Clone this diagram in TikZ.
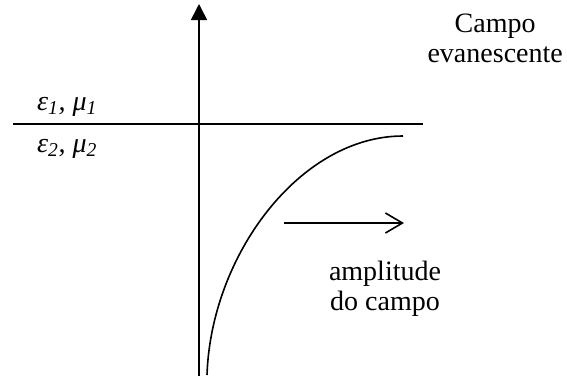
\documentclass[tikz,border=0pt]{standalone}
\usepackage{fontspec}
\setmainfont{Liberation Serif}
\usetikzlibrary{arrows.meta}
\begin{document}
\begin{tikzpicture}[x=1pt,y=-1pt,
  lbl/.style={inner sep=0pt, font=\fontsize{28}{30}\selectfont, align=center},
  med/.style={inner sep=0pt, font=\fontsize{28}{30}\selectfont\itshape},
  ln/.style={line width=1.6pt}]
\useasboundingbox (0,0) rectangle (567,381);
\coordinate (ab) at (199,376);
\coordinate (at) at (199,4);
\draw[ln,-{Triangle[length=16pt,width=16pt]}] (ab) -- (at);
\coordinate (hl) at (13,124);
\coordinate (hr) at (423,124);
\draw[ln] (hl) -- (hr);
\coordinate (cb) at (207,375);
\coordinate (ce) at (403,136);
\draw[ln] (cb) .. controls (211,255) and (300,136) .. (ce);
\coordinate (as) at (284,223);
\coordinate (ae) at (404,223);
\draw[ln,-{Straight Barb[length=17pt,width=20pt,line width=1.6pt]}] (as) -- (ae);
\node[lbl, anchor=north east] (cev) at (563,14) {Campo\\evanescente};
\node[lbl, anchor=north] (amp) at (385,261) {amplitude\\do campo};
\node[med, anchor=base west] (m1) at (37,110) {ε\textsubscript{1}, μ\textsubscript{1}};
\node[med, anchor=base west] (m2) at (37,152) {ε\textsubscript{2}, μ\textsubscript{2}};
\end{tikzpicture}
\end{document}
